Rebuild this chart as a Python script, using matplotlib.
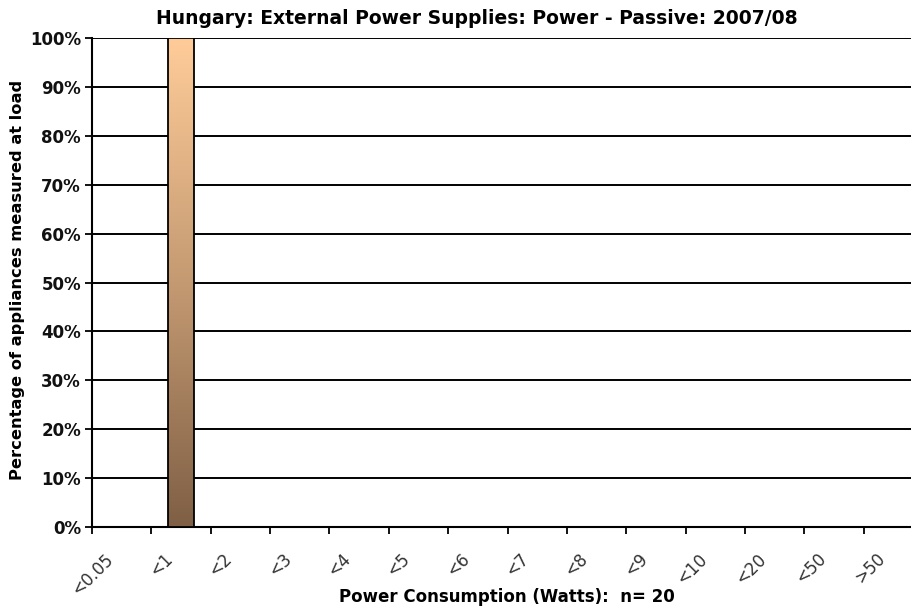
import numpy as np
import matplotlib
matplotlib.use("Agg")
import matplotlib.pyplot as plt
from matplotlib.colors import LinearSegmentedColormap
from matplotlib.transforms import ScaledTranslation

categories = ["<0.05", "<1", "<2", "<3", "<4", "<5", "<6", "<7", "<8", "<9", "<10", "<20", "<50", ">50"]
values = [0, 100, 0, 0, 0, 0, 0, 0, 0, 0, 0, 0, 0, 0]
yticks = [0, 10, 20, 30, 40, 50, 60, 70, 80, 90, 100]
title = "Hungary: External Power Supplies: Power - Passive: 2007/08"
xlabel = "Power Consumption (Watts):  n= 20"
ylabel = "Percentage of appliances measured at load"

fig = plt.figure(figsize=(9.11, 6.08), dpi=100)
ax = fig.add_axes([92/911, 1-527/608, 831/911, (527-38)/608])

x = np.arange(len(categories))
bars = ax.bar(x, values, width=0.43, color="none", edgecolor="black", linewidth=1.3, zorder=4)

cmap = LinearSegmentedColormap.from_list("g", ["#7f5f45", "#c49a72", "#ffcc99"])
grad = np.linspace(0, 1, 256).reshape(-1, 1)
for b, v in zip(bars, values):
    if v <= 0:
        continue
    x0, y0 = b.get_x(), b.get_y()
    im = ax.imshow(grad, cmap=cmap, origin="lower", aspect="auto",
                   extent=[x0, x0 + b.get_width(), y0, y0 + b.get_height()], zorder=3)
    im.set_clip_path(b)

ax.set_xlim(-0.5, len(categories) - 0.5)
ax.set_ylim(0, 100)
ax.set_yticks(yticks)
ax.set_yticklabels([f"{t}%" for t in yticks], fontsize=12, fontweight="bold", family="DejaVu Sans",
                   color="#111111")
ax.yaxis.grid(True, color="black", linewidth=1.4)
ax.set_axisbelow(True)

ax.set_xticks(np.arange(len(categories) + 1) - 0.5, minor=False)
ax.set_xticklabels([])
ax.set_xticks(x, minor=True)
ax.set_xticklabels(categories, minor=True, rotation=45, ha="right", va="center",
                   rotation_mode="anchor", fontsize=12, color="#333333")
ax.tick_params(axis="x", which="minor", length=0, pad=21)
ax.tick_params(axis="x", which="major", length=5, width=1.3, direction="out")
ax.tick_params(axis="y", length=5, width=1.3, direction="out", pad=3)
off = ScaledTranslation(-11/100, 0, fig.dpi_scale_trans)
for lab in ax.get_xticklabels(minor=True):
    lab.set_transform(lab.get_transform() + off)

for s in ["top", "right"]:
    ax.spines[s].set_visible(False)
for s in ["left", "bottom"]:
    ax.spines[s].set_linewidth(1.5)

fig.text(477/911, 1-18/608, title, ha="center", va="center", fontsize=13.5, fontweight="bold",
         family="DejaVu Sans")
fig.text(507/911, 1-597/608, xlabel, ha="center", va="center", fontsize=12, fontweight="bold",
         family="DejaVu Sans")
fig.text(18/911, 1-280/608, ylabel, ha="center", va="center", rotation=90, fontsize=11.7,
         fontweight="bold", family="DejaVu Sans")

fig.savefig("out.png", dpi=100)
